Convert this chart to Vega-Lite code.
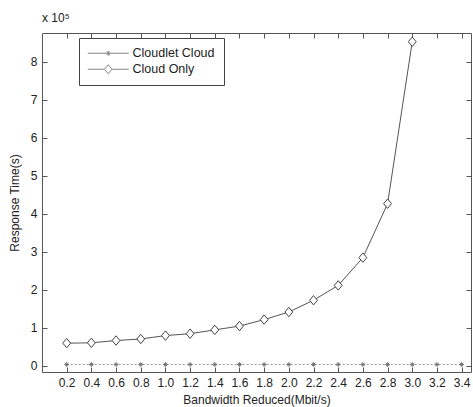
{
  "$schema": "https://vega.github.io/schema/vega-lite/v6.json",
  "width": 429,
  "height": 339,
  "autosize": "none",
  "padding": {"left": 42, "top": 33, "right": 2, "bottom": 35},
  "background": "white",
  "config": {
    "view": {"stroke": "#555", "strokeWidth": 1},
    "font": "Liberation Sans",
    "axis": {"grid": false, "domain": false, "tickColor": "#555", "labelColor": "#222", "titleColor": "#222", "labelFont": "Liberation Sans", "titleFont": "Liberation Sans", "labelFontSize": 12, "titleFontSize": 12, "titleFontWeight": "normal"}
  },
  "title": {"text": "x 10⁵", "anchor": "start", "frame": "group", "offset": 8, "fontSize": 12, "fontWeight": "normal", "color": "#222", "font": "Liberation Sans"},
  "data": {"values": [
    {"bw": 0.2, "t": 60000, "series": "Cloud Only"},
    {"bw": 0.4, "t": 61000, "series": "Cloud Only"},
    {"bw": 0.6, "t": 67000, "series": "Cloud Only"},
    {"bw": 0.8, "t": 71000, "series": "Cloud Only"},
    {"bw": 1.0, "t": 80000, "series": "Cloud Only"},
    {"bw": 1.2, "t": 85000, "series": "Cloud Only"},
    {"bw": 1.4, "t": 95000, "series": "Cloud Only"},
    {"bw": 1.6, "t": 105000, "series": "Cloud Only"},
    {"bw": 1.8, "t": 122000, "series": "Cloud Only"},
    {"bw": 2.0, "t": 142000, "series": "Cloud Only"},
    {"bw": 2.2, "t": 173000, "series": "Cloud Only"},
    {"bw": 2.4, "t": 212000, "series": "Cloud Only"},
    {"bw": 2.6, "t": 285000, "series": "Cloud Only"},
    {"bw": 2.8, "t": 427000, "series": "Cloud Only"},
    {"bw": 3.0, "t": 853000, "series": "Cloud Only"},
    {"bw": 0.2, "t": 4000, "series": "Cloudlet Cloud"},
    {"bw": 0.4, "t": 4000, "series": "Cloudlet Cloud"},
    {"bw": 0.6, "t": 4000, "series": "Cloudlet Cloud"},
    {"bw": 0.8, "t": 4000, "series": "Cloudlet Cloud"},
    {"bw": 1.0, "t": 4000, "series": "Cloudlet Cloud"},
    {"bw": 1.2, "t": 4000, "series": "Cloudlet Cloud"},
    {"bw": 1.4, "t": 4000, "series": "Cloudlet Cloud"},
    {"bw": 1.6, "t": 4000, "series": "Cloudlet Cloud"},
    {"bw": 1.8, "t": 4000, "series": "Cloudlet Cloud"},
    {"bw": 2.0, "t": 4000, "series": "Cloudlet Cloud"},
    {"bw": 2.2, "t": 4000, "series": "Cloudlet Cloud"},
    {"bw": 2.4, "t": 4000, "series": "Cloudlet Cloud"},
    {"bw": 2.6, "t": 4000, "series": "Cloudlet Cloud"},
    {"bw": 2.8, "t": 4000, "series": "Cloudlet Cloud"},
    {"bw": 3.0, "t": 4000, "series": "Cloudlet Cloud"},
    {"bw": 3.2, "t": 4000, "series": "Cloudlet Cloud"},
    {"bw": 3.4, "t": 4000, "series": "Cloudlet Cloud"}
  ]},
  "resolve": {"axis": {"x": "independent", "y": "independent"}, "scale": {"shape": "independent"}},
  "layer": [
    {
      "transform": [{"filter": "datum.series === 'Cloud Only'"}],
      "mark": {"type": "line", "color": "#555", "strokeWidth": 1},
      "encoding": {
        "x": {"field": "bw", "type": "quantitative", "scale": {"domain": [0, 3.476], "nice": false, "zero": false},
              "axis": {"orient": "bottom", "title": "Bandwidth Reduced(Mbit/s)", "values": [0.2,0.4,0.6,0.8,1,1.2,1.4,1.6,1.8,2,2.2,2.4,2.6,2.8,3,3.2,3.4], "tickSize": -5, "labelPadding": 10, "titlePadding": 6, "labelFlush": false, "labelOverlap": false}},
        "y": {"field": "t", "type": "quantitative", "scale": {"domain": [-15800, 876000], "nice": false, "zero": false},
              "axis": {"orient": "left", "title": "Response Time(s)", "values": [0,100000,200000,300000,400000,500000,600000,700000,800000], "labelExpr": "datum.value / 100000", "tickSize": -5, "labelPadding": 10, "titlePadding": 9, "labelFlush": false}}
      }
    },
    {
      "transform": [{"filter": "datum.series === 'Cloudlet Cloud'"}],
      "mark": {"type": "line", "color": "#999", "strokeWidth": 1, "strokeDash": [2, 2]},
      "encoding": {
        "x": {"field": "bw", "type": "quantitative",
              "axis": {"orient": "top", "title": null, "labels": false, "values": [0.2,0.4,0.6,0.8,1,1.2,1.4,1.6,1.8,2,2.2,2.4,2.6,2.8,3,3.2,3.4], "tickSize": -5}},
        "y": {"field": "t", "type": "quantitative",
              "axis": {"orient": "right", "title": null, "labels": false, "values": [0,100000,200000,300000,400000,500000,600000,700000,800000], "tickSize": -5}}
      }
    },
    {
      "mark": {"type": "point", "filled": false, "fill": "white", "fillOpacity": 1, "opacity": 1, "strokeWidth": 1, "size": 110},
      "encoding": {
        "x": {"field": "bw", "type": "quantitative", "axis": null},
        "y": {"field": "t", "type": "quantitative", "axis": null},
        "shape": {"field": "series", "type": "nominal", "legend": null,
                  "scale": {"domain": ["Cloudlet Cloud", "Cloud Only"], "range": ["M-0.45,0H0.45M0,-0.45V0.45M-0.32,-0.32L0.32,0.32M-0.32,0.32L0.32,-0.32", "M0,-0.9L0.75,0L0,0.9L-0.75,0Z"]}},
        "stroke": {"field": "series", "type": "nominal", "legend": null, "scale": {"domain": ["Cloudlet Cloud", "Cloud Only"], "range": ["#777", "#444"]}}
      }
    },
    {
      "mark": {"type": "point", "filled": false, "strokeWidth": 1, "size": 100},
      "encoding": {
        "x": {"field": "bw", "type": "quantitative", "axis": null},
        "y": {"field": "legendonly", "type": "quantitative", "axis": null},
        "shape": {"field": "series", "type": "nominal",
                  "scale": {"domain": ["Cloudlet Cloud", "Cloud Only"], "range": ["M-4.1,0H4.1M0,-0.5V0.5M-0.35,-0.35L0.35,0.35M-0.35,0.35L0.35,-0.35", "M-4.1,0H-0.75M0.75,0H4.1M0,-0.9L0.75,0L0,0.9L-0.75,0Z"]},
                  "legend": {"title": null, "orient": "none", "legendX": 37, "legendY": 5, "symbolSize": 100, "symbolOffset": 14, "symbolFillColor": "white", "symbolStrokeColor": "#555", "symbolStrokeWidth": 1, "labelFontSize": 12.5, "labelColor": "#222", "labelFont": "Liberation Sans", "labelOffset": 18, "strokeColor": "#444", "padding": 9, "rowPadding": 2, "fillColor": "white", "offset": 0}}
      }
    }
  ]
}
